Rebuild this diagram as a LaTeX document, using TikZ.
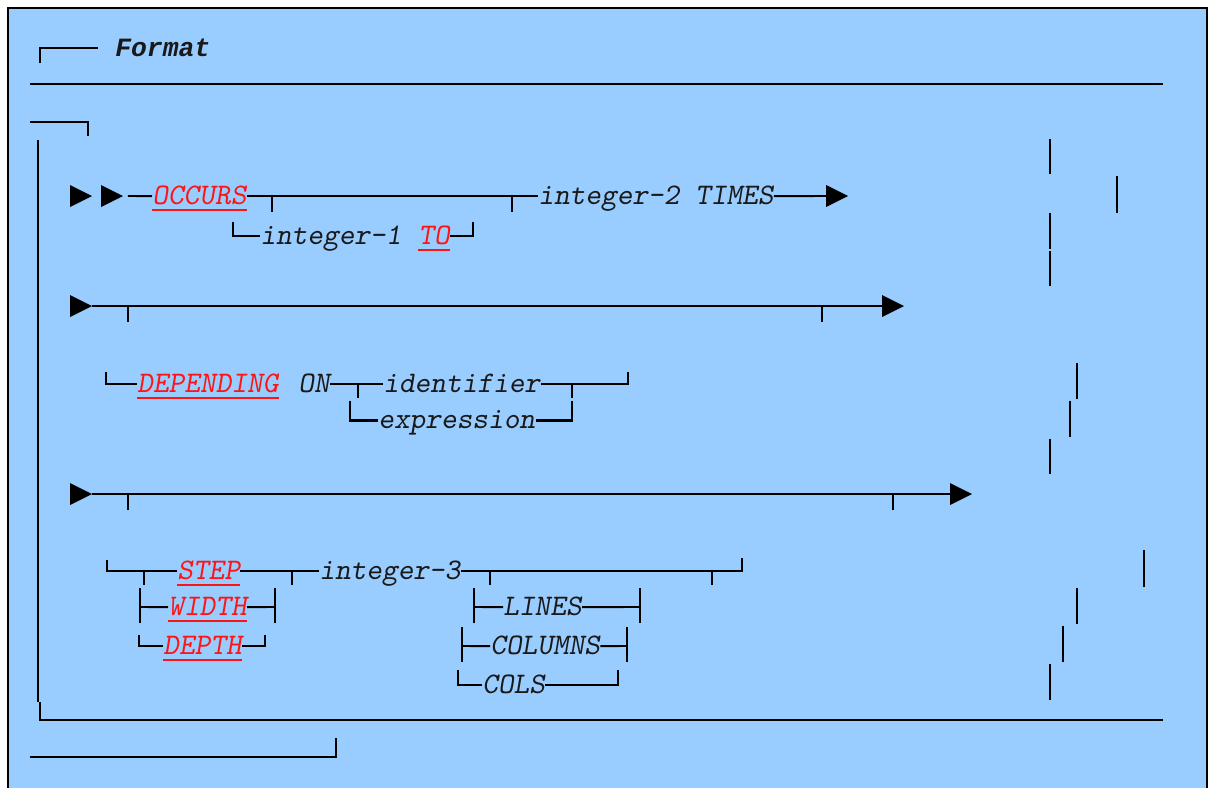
\documentclass[tikz,border=0pt]{standalone}
\usepackage{fontspec}
\newfontfamily\headfont{Liberation Mono}
\usepackage{xcolor}
\usepackage{tikz}
\usetikzlibrary{positioning}

\definecolor{panelblue}{RGB}{153,204,255}
\definecolor{kwred}{RGB}{255,20,20}

\newcommand{\kwunder}[1]{\draw[underl] ([yshift=-3.4pt]#1.base west) -- ([yshift=-3.4pt]#1.base east);}
\newcommand{\railtip}[1]{\fill (#1) -- ++(-22,-11) -- ++(0,22) -- cycle;}

\begin{document}
\begin{tikzpicture}[
    x=0.02cm, y=-0.02cm,
    frame/.style={line width=0.8pt},
    rail/.style={line width=1.1pt},
    heavy/.style={line width=1.7pt},
    tick/.style={line width=0.85pt},
    underl/.style={draw=kwred, line width=0.7pt},
    word/.style={inner sep=0pt, anchor=base west, text height=9pt, text depth=0pt, text=black!90, font=\fontsize{17pt}{20pt}\selectfont\ttfamily\slshape},
    keyword/.style={word, text=kwred}
]
    \useasboundingbox (0,0) rectangle (1211,788);
    \fill[panelblue] (8,8) rectangle (1207,788);
    \draw[frame] (8,788) -- (8,8) -- (1207,8) -- (1207,788);

    % heading
    \node[word, font=\fontsize{15pt}{18pt}\selectfont\headfont\bfseries\itshape] (format) at (115,56) {Format};
    \draw[rail] (40,63) -- (40,48) -- (98,48);
    \draw[rail] (30,84) -- (1163,84);
    \draw[rail] (30,122) -- (88,122) -- (88,136);
    \draw[rail] (38,140) -- (38,702);
    \draw[rail] (40,702) -- (40,720) -- (1163,720);
    \draw[rail] (30,757) -- (336,757) -- (336,738);

    % OCCURS
    \coordinate (tipA) at (92,196);
    \coordinate (tipB) at (123,196);
    \coordinate (endA) at (848,196);
    \node[keyword] (occurs) at (152,204) {OCCURS};
    \node[word] (intTwo) at (538,204) {integer-2 TIMES};
    \node[word] (intOne) at (260,244) {integer-1};
    \node[keyword] (to) at (418,244) {TO};
    \kwunder{occurs} \kwunder{to}
    \draw[rail] ([xshift=2.8pt]tipB) -- (occurs.west);
    \draw[rail] (occurs.east) -- (intTwo.west);
    \draw[rail] (intTwo.east) -- ([xshift=-8pt]endA);
    \foreach \x in {272,512} \draw[tick] (\x,196) -- (\x,212);
    \draw[rail] (233,222) |- (intOne.west);
    \draw[rail] (to.east) -| (473,222);
    \railtip{tipA} \railtip{tipB} \railtip{endA}

    % DEPENDING ON
    \coordinate (tipC) at (92,306);
    \coordinate (endB) at (904,306);
    \draw[rail] (tipC) -- ([xshift=-8pt]endB);
    \foreach \x in {128,822} \draw[tick] (\x,306) -- (\x,322);
    \railtip{tipC} \railtip{endB}
    \node[keyword] (depending) at (137,392) {DEPENDING};
    \node[word] (on) at (298,392) {ON};
    \node[word] (ident) at (383,392) {identifier};
    \node[word] (expr) at (378,428) {expression};
    \kwunder{depending}
    \draw[rail] (106,372) |- (depending.west);
    \draw[rail] (on.east) -- (ident.west);
    \draw[rail] (ident.east) -| (628,372);
    \foreach \x in {358,572} \draw[tick] (\x,384) -- (\x,398);
    \draw[heavy] (350,401) |- (expr.west);
    \draw[heavy] (expr.east) -| (572,401);

    % STEP / WIDTH / DEPTH
    \coordinate (tipD) at (92,494);
    \coordinate (endC) at (972,494);
    \draw[rail] (tipD) -- ([xshift=-8pt]endC);
    \foreach \x in {128,893} \draw[tick] (\x,494) -- (\x,510);
    \railtip{tipD} \railtip{endC}
    \node[keyword] (step) at (177,579) {STEP};
    \node[word] (intThree) at (319,579) {integer-3};
    \node[keyword] (width) at (168,615) {WIDTH};
    \node[keyword] (depth) at (163,654) {DEPTH};
    \node[word] (lines) at (503,615) {LINES};
    \node[word] (columns) at (490,654) {COLUMNS};
    \node[word] (cols) at (482,693) {COLS};
    \kwunder{step} \kwunder{width} \kwunder{depth}
    \draw[rail] (107,560) |- (step.west);
    \draw[rail] (step.east) -- (intThree.west);
    \draw[rail] (intThree.east) -| (742,558);
    \foreach \x in {144,292,490,712} \draw[tick] (\x,571) -- (\x,585);
    \draw[heavy] (140,588) -- (140,623);
    \draw[rail] (140,607) -- (width.west);
    \draw[rail] (width.east) -- (275,607);
    \draw[heavy] (275,588) -- (275,623);
    \draw[rail] (139,635) |- (depth.west);
    \draw[rail] (depth.east) -| (265,635);
    \draw[heavy] (474,588) -- (474,623);
    \draw[rail] (474,607) -- (lines.west);
    \draw[rail] (lines.east) -- (640,607);
    \draw[heavy] (640,588) -- (640,623);
    \draw[heavy] (462,627) -- (462,662);
    \draw[rail] (462,646) -- (columns.west);
    \draw[rail] (columns.east) -- (627,646);
    \draw[heavy] (627,627) -- (627,662);
    \draw[rail] (458,670) |- (cols.west);
    \draw[rail] (cols.east) -| (618,670);

    % loose bars on the right
    \foreach \x/\ya/\yb in {1050/139/174, 1117/176/213, 1050/213/249, 1050/251/286,
        1077/363/399, 1070/401/437, 1050/439/474, 1144/550/587,
        1077/588/624, 1063/626/662, 1050/664/700}
        \draw[rail] (\x,\ya) -- (\x,\yb);
\end{tikzpicture}
\end{document}
